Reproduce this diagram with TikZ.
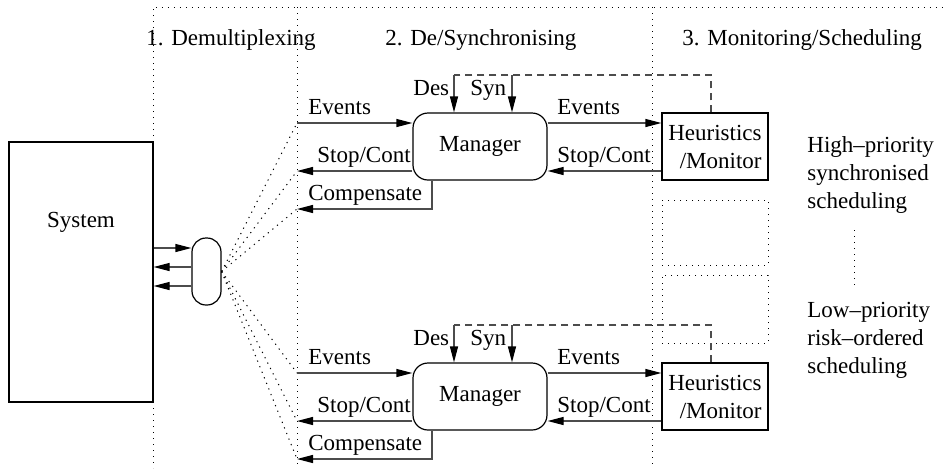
\documentclass[tikz,border=0pt]{standalone}
\usepackage{fontspec}
\setmainfont{Liberation Serif}
\usetikzlibrary{arrows.meta,calc}

\begin{document}
\begin{tikzpicture}[x=0.5pt, y=-0.5pt,
  every node/.style={font=\fontsize{11.5}{14}\selectfont, inner sep=0pt},
  mgr/.style={draw, line width=0.6pt, rounded corners=7.5pt, minimum width=67pt, minimum height=33.5pt},
  heur/.style={draw, line width=0.6pt, minimum width=53pt, minimum height=33.5pt, align=right},
  slot/.style={draw, sep, minimum width=53pt},
  flow/.style={draw=black!70, line width=0.6pt, -{Triangle[length=8pt,width=4pt,color=black]}},
  ctrl/.style={draw=black!70, line width=0.6pt, dash pattern=on 3.5pt off 2.5pt},
  sep/.style={line width=0.5pt, dash pattern=on 0.6pt off 2.4pt},
  lbl/.style={anchor=base west}]
\useasboundingbox (0,0) rectangle (944,468);
% Frame
\draw[sep] (153,142) -- (153,7) -- (944,7);
\draw[sep] (153,402) -- (153,468);
\draw[sep] (297,7) -- (297,468);
\draw[sep] (652,7) -- (652,468);
\node[lbl] (hd1) at (146,45) {1. Demultiplexing};
\node[lbl] (hd2) at (385,45) {2. De/Synchronising};
\node[lbl] (hd3) at (682,45) {3. Monitoring/Scheduling};
% System and demultiplexer
\node[draw, line width=0.6pt, minimum width=72pt, minimum height=130pt,
  label={[yshift=25pt]center:System}] (sys) at (81,272) {};
\node[draw, line width=0.6pt, rounded corners=7pt, minimum width=14.5pt, minimum height=33.5pt] (dmx) at (206.5,271.5) {};
\draw[flow] (sys.east |- 0,248) -- (dmx.west |- 0,248);
\draw[flow] (dmx.west |- 0,267) -- (sys.east |- 0,267);
\draw[flow] (dmx.west |- 0,286) -- (sys.east |- 0,286);
% Ports
\coordinate (evA) at (297,123);
\coordinate (scA) at (297,171);
\coordinate (cpA) at (297,209);
\coordinate (evB) at (297,373);
\coordinate (scB) at (297,421);
\coordinate (cpB) at (297,459);
\foreach \c in {evA,scA,cpA,evB,scB,cpB}
  \draw[sep] (dmx.east) -- (\c);
% Managers and heuristics
\node[mgr] (mgrA) at (480,146.5) {Manager};
\node[heur] (heurA) at (715,146.5) {Heuristics\\/Monitor};
\node[mgr] (mgrB) at (480,396.5) {Manager};
\node[heur] (heurB) at (715,396.5) {Heuristics\\/Monitor};
\node[slot, minimum height=32.5pt] (slotA) at (715,232.5) {};
\node[slot, minimum height=34pt] (slotB) at (715,309) {};
\foreach \m/\h/\e/\s/\p/\d in {mgrA/heurA/evA/scA/cpA/0, mgrB/heurB/evB/scB/cpB/250} {
  \draw[flow] (\e) -- (\m.west |- \e);
  \draw[flow] (\m.west |- \s) -- (\s);
  \draw[flow] ($(\m.south)+(-48,0)$) |- (\p);
  \draw[flow] (\m.east |- \e) -- (\h.west |- \e);
  \draw[flow] (\h.west |- \s) -- (\m.east |- \s);
  \coordinate (des\m) at (454,75+\d);
  \coordinate (syn\m) at (512,75+\d);
  \draw[ctrl] ($(\h.north)+(-4,0)$) |- (des\m);
  \draw[flow] (des\m) -- (des\m |- \m.north);
  \draw[flow] (syn\m) -- (syn\m |- \m.north);
  \node[lbl] (evL\m) at (308,114+\d) {Events};
  \node[lbl] (scL\m) at (317,162+\d) {Stop/Cont};
  \node[lbl] (cpL\m) at (308,200+\d) {Compensate};
  \node[lbl] (evR\m) at (557,114+\d) {Events};
  \node[lbl] (scR\m) at (557,162+\d) {Stop/Cont};
  \node[lbl] (desL\m) at (413,95+\d) {Des};
  \node[lbl] (synL\m) at (470,95+\d) {Syn};
}
% Scheduling
\node[anchor=west, align=left] (hiTxt) at (807,175) {High--priority\\synchronised\\scheduling};
\node[anchor=west, align=left] (loTxt) at (807,340) {Low--priority\\risk--ordered\\scheduling};
\draw[sep] (854,230) -- (854,285);
\end{tikzpicture}
\end{document}
